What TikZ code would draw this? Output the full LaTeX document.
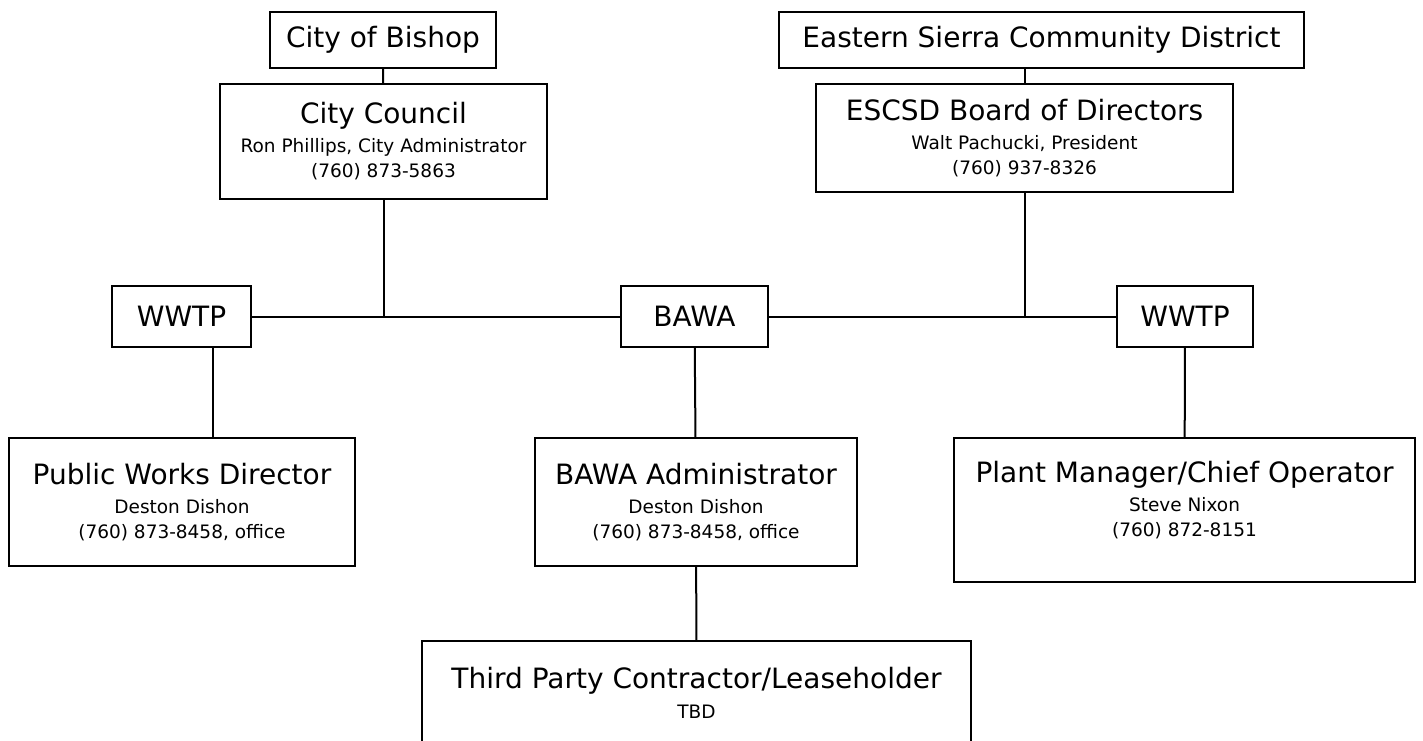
\documentclass[tikz,border=0pt]{standalone}
\usepackage{fontspec}
\setmainfont{DejaVu Sans}
\usepackage{tikz}

\newcommand{\unitname}[1]{{\fontsize{28}{30}\selectfont #1}}
\tikzset{
    orgbox/.style={draw, line width=2pt, align=center, inner sep=0pt, font=\fontsize{18.5}{25}\selectfont},
    link/.style={line width=2pt}
}

\begin{document}
\begin{tikzpicture}[x=1pt,y=-1pt]
    \useasboundingbox[fill=white] (0,0) rectangle (1423,740);
    % governing bodies
    \node[orgbox, minimum width=226, minimum height=56] (bishop) at (383,40) {\unitname{City of Bishop}};
    \node[orgbox, minimum width=327, minimum height=115] (council) at (383.5,141.5) {\unitname{City Council}\\[4pt] Ron Phillips, City Administrator\\ (760) 873-5863};
    \node[orgbox, minimum width=525, minimum height=56] (escd) at (1041.5,40) {\unitname{Eastern Sierra Community District}};
    \node[orgbox, minimum width=417, minimum height=108] (board) at (1024.5,138) {\unitname{ESCSD Board of Directors}\\[4pt] Walt Pachucki, President\\ (760) 937-8326};
    % middle row
    \node[orgbox, minimum width=139, minimum height=61] (wwtpL) at (181.5,316.5) {\unitname{WWTP}};
    \node[orgbox, minimum width=147, minimum height=61] (bawa) at (694.5,316.5) {\unitname{BAWA}};
    \node[orgbox, minimum width=136, minimum height=61] (wwtpR) at (1185,316.5) {\unitname{WWTP}};
    % staff
    \node[orgbox, minimum width=346, minimum height=128] (pwd) at (182,502) {\unitname{Public Works Director}\\[4pt] Deston Dishon\\ (760) 873-8458, office};
    \node[orgbox, minimum width=322, minimum height=128] (admin) at (696,502) {\unitname{BAWA Administrator}\\[4pt] Deston Dishon\\ (760) 873-8458, office};
    \node[orgbox, minimum width=461, minimum height=144] (plant) at (1184.5,510) {\unitname{Plant Manager/Chief Operator}\\[4pt] Steve Nixon\\ (760) 872-8151\\[-2pt]\mbox{}};
    \node[orgbox, minimum width=549, minimum height=104] (third) at (696.5,693) {\unitname{Third Party Contractor/Leaseholder}\\[5pt] TBD};
    % connectors
    \draw[link] (bishop) -- (council);
    \draw[link] (board.north) -- (board.north |- escd.south);
    \draw[link] (wwtpL) -- (bawa) -- (wwtpR);
    \draw[link] (council.south) -- (council.south |- bawa.west);
    \draw[link] (board.south) -- (board.south |- bawa.east);
    \coordinate (pwdtap) at ([xshift=31pt]wwtpL.south);
    \draw[link] (pwdtap) -- (pwdtap |- pwd.north);
    \draw[link] (bawa) -- (admin);
    \draw[link] (admin) -- (third);
    \draw[link] (wwtpR) -- (plant);
\end{tikzpicture}
\end{document}
